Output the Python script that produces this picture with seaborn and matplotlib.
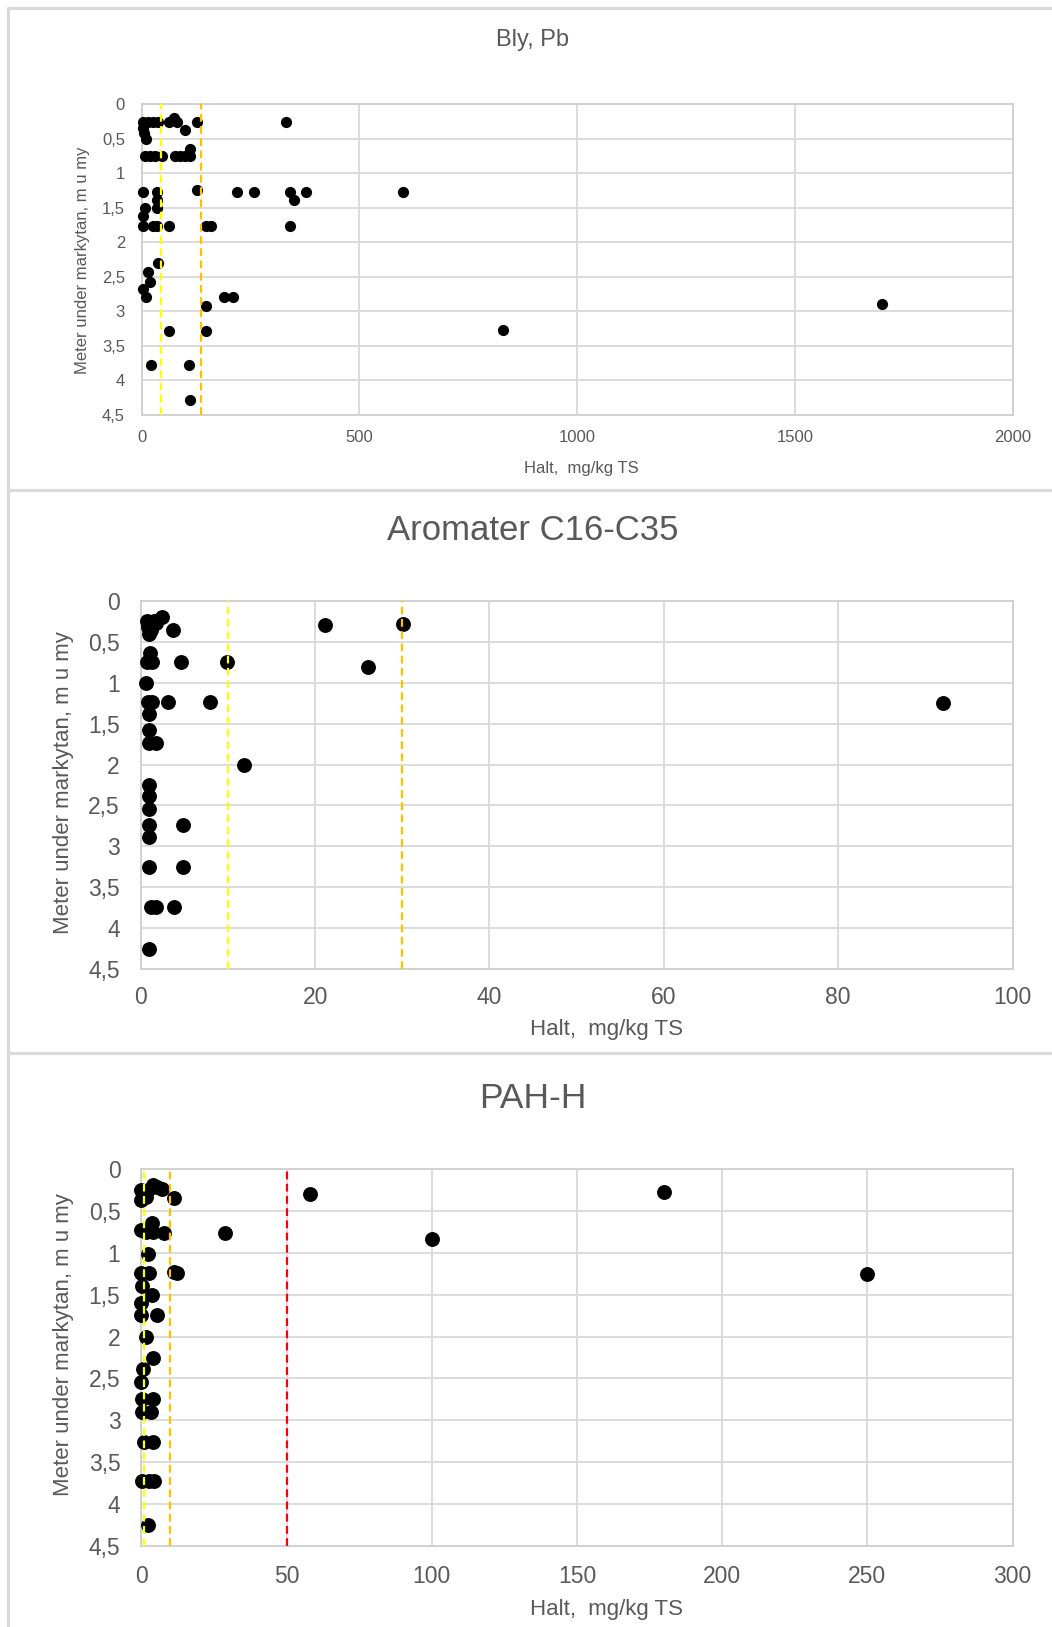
import matplotlib
matplotlib.use("Agg")
import numpy as np
import pandas as pd
import seaborn as sns
import matplotlib.pyplot as plt
from matplotlib.lines import Line2D
from matplotlib import font_manager

# ---------------- data ----------------
bly_halt = [2, 15, 27, 38, 62, 82, 128, 331, 75,
            2, 6, 10, 100,
            8, 19, 31, 46, 77, 88, 100, 110, 110,
            2, 36, 128, 219, 258, 340, 378, 600, 350, 36, 36, 8, 2,
            2, 27, 35, 62, 148, 159, 340,
            38, 14, 19, 2, 9, 188, 210, 148, 1700,
            62, 148, 830,
            22, 108,
            110]
bly_djup = [0.26, 0.26, 0.26, 0.26, 0.26, 0.26, 0.26, 0.26, 0.20,
            0.35, 0.42, 0.51, 0.37,
            0.75, 0.75, 0.75, 0.75, 0.75, 0.75, 0.75, 0.75, 0.65,
            1.27, 1.27, 1.24, 1.27, 1.27, 1.27, 1.27, 1.27, 1.39, 1.39, 1.51, 1.51, 1.62,
            1.77, 1.77, 1.77, 1.77, 1.77, 1.77, 1.77,
            2.30, 2.43, 2.58, 2.68, 2.79, 2.79, 2.79, 2.93, 2.90,
            3.29, 3.29, 3.27,
            3.78, 3.78,
            4.29]
bly_gransvarden = [45, 137]

arom_halt = [2.4, 0.7, 1.0, 1.5, 1.8, 0.8, 1.2, 1.0, 3.7, 21.1, 30.1,
             1.1, 0.7, 1.3, 4.6, 9.9, 26.1,
             0.6,
             0.8, 1.3, 3.1, 8.0, 92,
             1.0, 1.0, 1.0, 1.8,
             11.9,
             1.0, 1.0, 1.0, 1.0, 4.8, 1.0,
             1.0, 4.9, 1.2, 1.7, 3.8, 1.0]
arom_djup = [0.19, 0.24, 0.26, 0.24, 0.27, 0.32, 0.36, 0.40, 0.35, 0.29, 0.28,
             0.64, 0.75, 0.75, 0.75, 0.75, 0.81,
             1.00,
             1.23, 1.23, 1.23, 1.23, 1.25,
             1.38, 1.58, 1.74, 1.74,
             2.00,
             2.25, 2.39, 2.54, 2.74, 2.74, 2.89,
             3.25, 3.25, 3.74, 3.74, 3.74, 4.25]
arom_gransvarden = [10, 30]

pah_halt = [0.0, 0.8, 2.4, 4.1, 5.5, 7.0, 11.3, 0.0, 1.5, 58, 180,
            0.0, 3.6, 4.1, 1.5, 7.9, 28.9, 100,
            2.2,
            0.0, 2.8, 11.3, 12.2, 250,
            0.1, 3.6, 0.0, 0.0, 5.5, 1.5,
            3.9, 0.7, 0.0, 0.1, 3.9, 0.1, 3.2,
            1.0, 3.9, 0.1, 2.5, 4.4, 2.2]
pah_djup = [0.25, 0.28, 0.25, 0.19, 0.22, 0.24, 0.35, 0.37, 0.33, 0.30, 0.28,
            0.73, 0.65, 0.75, 0.75, 0.76, 0.76, 0.83,
            1.02,
            1.24, 1.24, 1.23, 1.24, 1.25,
            1.40, 1.50, 1.60, 1.74, 1.74, 2.00,
            2.26, 2.39, 2.54, 2.74, 2.74, 2.90, 2.90,
            3.26, 3.26, 3.73, 3.73, 3.73, 4.25]
pah_gransvarden = [1, 10, 50]

titles = ["Bly, Pb", "Aromater C16-C35", "PAH-H"]
x_ticks = [[0, 500, 1000, 1500, 2000],
           [0, 20, 40, 60, 80, 100],
           [0, 50, 100, 150, 200, 250, 300]]
y_ticks = [0, 0.5, 1, 1.5, 2, 2.5, 3, 3.5, 4, 4.5]
y_ticklabels = ["0", "0,5", "1", "1,5", "2", "2,5", "3", "3,5", "4", "4,5"]
x_label = "Halt,  mg/kg TS"
y_label = "Meter under markytan, m u my"

# ---------------- styling ----------------
sns.set_theme(style="white")
names = {f.name for f in font_manager.fontManager.ttflist}
base = "Liberation Sans" if "Liberation Sans" in names else "DejaVu Sans"
narrow = "Liberation Sans Narrow" if "Liberation Sans Narrow" in names else base
plt.rcParams["font.family"] = [base, "DejaVu Sans"]

W, H = 1052, 1627
fig = plt.figure(figsize=(W / 100, H / 100), dpi=100)
fig.patch.set_facecolor("white")

TXT = "#595959"
GRID = "#d9d9d9"


def rect(l, r, t, b):
    return [l / W, 1 - b / H, (r - l) / W, (b - t) / H]


panels = [
    dict(halt=bly_halt, djup=bly_djup, lines=bly_gransvarden,
         colors=["#ffff00", "#ffc000"],
         box=rect(141.7, 1012.6, 104, 415), s=65,
         tsize=12, tpad=(11, 12), title_y=40, title_size=17,
         title_font=narrow if narrow != base else base,
         lab_size=12, xlab=(581, 468), ylab=(83, 260)),
    dict(halt=arom_halt, djup=arom_djup, lines=arom_gransvarden,
         colors=["#ffff00", "#ffc000"],
         box=rect(140.7, 1012.6, 601, 969), s=115,
         tsize=16.5, tpad=(12, 15), title_y=531, title_size=25, title_font=base,
         lab_size=16, xlab=(607, 1029), ylab=(64, 783)),
    dict(halt=pah_halt, djup=pah_djup, lines=pah_gransvarden,
         colors=["#ffff00", "#ffc000", "#ff0000"],
         box=rect(141.3, 1012.6, 1169, 1546), s=115,
         tsize=16.5, tpad=(13.5, 15), title_y=1099, title_size=25.5, title_font=base,
         lab_size=16, xlab=(607, 1610), ylab=(64, 1345)),
]

for i, p in enumerate(panels):
    ax = fig.add_axes(p["box"])
    df = pd.DataFrame({"Halt": p["halt"], "Djup": p["djup"]})
    sns.scatterplot(data=df, x="Halt", y="Djup", ax=ax, color="black",
                    s=p["s"], linewidth=0, clip_on=False, legend=False, zorder=3)
    for v, c in zip(p["lines"], p["colors"]):
        ax.axvline(v, ymin=0, ymax=1, color=c, lw=1.6, ls=(0, (3.5, 2)), zorder=4)
    xt = x_ticks[i]
    ax.set_xlim(xt[0], xt[-1])
    ax.set_ylim(4.5, 0)
    ax.set_xticks(xt)
    ax.set_xticklabels([str(v) for v in xt])
    ax.set_yticks(y_ticks)
    ax.set_yticklabels(y_ticklabels)
    ax.grid(True, color=GRID, lw=1.3)
    ax.set_axisbelow(True)
    for sp in ax.spines.values():
        sp.set_color("#cfcfcf")
        sp.set_linewidth(1.3)
    ax.tick_params(axis="x", length=0, colors=TXT, labelsize=p["tsize"], pad=p["tpad"][0])
    ax.tick_params(axis="y", length=0, colors=TXT, labelsize=p["tsize"], pad=p["tpad"][1])
    ax.set_xlabel("")
    ax.set_ylabel("")
    fig.text(533 / W, 1 - p["title_y"] / H, titles[i], ha="center", va="center",
             fontsize=p["title_size"], color=TXT, family=[p["title_font"], "DejaVu Sans"])
    fig.text(p["xlab"][0] / W, 1 - p["xlab"][1] / H, x_label, ha="center", va="center",
             fontsize=p["lab_size"], color=TXT)
    fig.text(p["ylab"][0] / W, 1 - p["ylab"][1] / H, y_label, ha="center", va="center",
             rotation=90, fontsize=p["lab_size"], color=TXT)

# chart-area borders
BORDER = "#d9d9d9"
for (x0, x1, y0, y1) in [(8, 8, 8, H), (8, W, 8, 8), (8, W, 490, 490), (8, W, 1053, 1053)]:
    fig.add_artist(Line2D([x0 / W, x1 / W], [1 - y0 / H, 1 - y1 / H],
                          transform=fig.transFigure, color=BORDER, lw=2.2))

fig.savefig("out.png", dpi=100)
